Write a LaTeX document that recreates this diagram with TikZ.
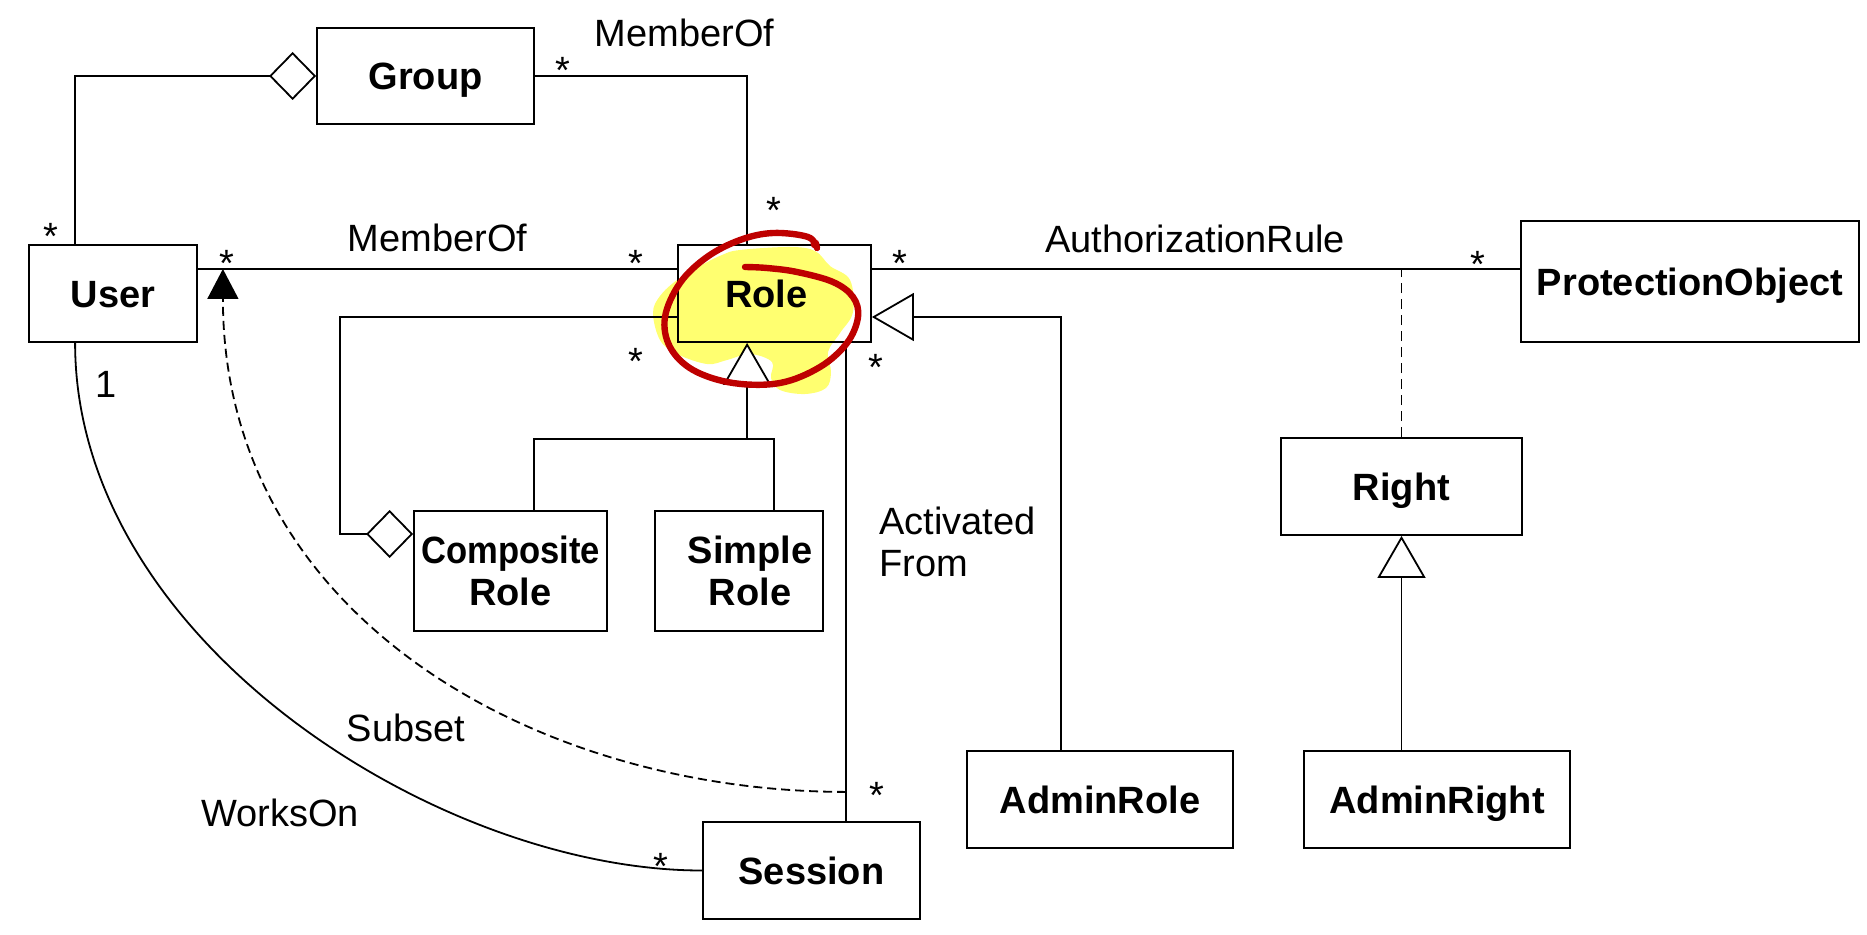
\documentclass[tikz,border=0pt]{standalone}
\usepackage{fontspec}
\setmainfont{Liberation Sans}
\usetikzlibrary{arrows.meta,calc}
\definecolor{hlyellow}{RGB}{255,255,112}
\definecolor{penred}{RGB}{190,0,0}
\begin{document}
\begin{tikzpicture}[x=0.5pt,y=-0.5pt,
  every node/.style={font=\fontsize{19}{21}\selectfont},
  cls/.style={draw, line width=0.9pt, inner sep=0pt, font=\fontsize{19}{21}\selectfont\bfseries, text height=13.6pt, text depth=0pt},
  clstwo/.style={draw, line width=0.9pt, inner sep=0pt, align=center, font=\fontsize{19}{21}\selectfont\bfseries},
  lbl/.style={anchor=base, inner sep=0pt},
  conn/.style={line width=0.9pt},
  gen/.style={conn, -{Triangle[open, fill=white, length=21pt, width=24pt]}},
  aggr/.style={conn, {Diamond[open, fill=white, length=23.5pt, width=24pt]}-},
  dep/.style={conn, dash pattern=on 4.5pt off 2.5pt, -{Triangle[length=15pt, width=15.5pt]}},
  assocdash/.style={conn, dash pattern=on 5pt off 3pt},
]
\useasboundingbox (0,0) rectangle (1867,935);

% yellow highlight behind Role
\fill[hlyellow] plot[smooth cycle, tension=0.6] coordinates {
  (740,250) (790,247) (815,251) (830,266) (850,280) (853,312) (840,333)
  (828,352) (831,372) (826,388) (805,394) (780,390) (771,378) (772,362)
  (750,354) (727,360) (707,364) (677,354) (660,340) (653,313) (660,296)
  (677,280) (700,266) (722,255)};

% classes
\node[cls, minimum width=84pt, minimum height=48.5pt] (User) at (113,293.5) {User};
\node[cls, minimum width=108.5pt, minimum height=48pt] (Group) at (425.5,76) {Group};
\node[cls, minimum width=96.5pt, minimum height=48.5pt] (Role) at (774.5,293.5) {\hspace*{-8pt}Role};
\node[cls, minimum width=169pt, minimum height=60.5pt] (PO) at (1690,281.5) {ProtectionObject};
\node[cls, minimum width=120.5pt, minimum height=48.5pt] (Right) at (1401.5,486.5) {Right};
\node[cls, minimum width=133pt, minimum height=48.5pt] (AdminRight) at (1437,799.5) {AdminRight};
\node[cls, minimum width=133pt, minimum height=48.5pt] (AdminRole) at (1100,799.5) {AdminRole};
\node[cls, minimum width=108.5pt, minimum height=48.5pt] (Session) at (811.5,870.5) {Session};
\node[clstwo, minimum width=96.5pt, minimum height=60pt] (Composite) at (510.5,571) {\scalebox{0.91}[1]{Composite}\\Role};
\node[clstwo, minimum width=84pt, minimum height=60pt] (Simple) at (739,571) {\hspace*{11pt}Simple\\\hspace*{11pt}Role};

% connectors
\draw[aggr] (Group.west) -| ($(User.north west)+(47,0)$);
\draw[conn] (Group.east) -| ($(Role.north west)+(70,0)$);
\draw[conn] ($(User.east)+(0,-24.5)$) -- ($(Role.west)+(0,-24.5)$);
\draw[conn] ($(Role.east)+(0,-24.5)$) coordinate (ar) -- (ar -| PO.west);
\draw[assocdash] (Right.north) -- (Right.north |- ar);
\draw[gen] (Right.south |- AdminRight.north) -- (Right.south);
\draw[gen] ($(AdminRole.north west)+(95,0)$) |- ($(Role.east)+(0,23.5)$);
\coordinate (gj) at ($(Role.south west)+(70,96)$);
\draw[conn] ($(Composite.north west)+(121,0)$) |- (gj) -| ($(Simple.north west)+(120,0)$);
\draw[gen] (gj) -- ($(Role.south west)+(70,0)$);
\draw[aggr] ($(Composite.west)+(0,-37)$) -- ++(-73,0) |- ($(Role.west)+(0,23.5)$);
\draw[conn] ($(Role.south west)+(169,0)$) coordinate (af) -- (af |- Session.north);
\coordinate (sb) at ($(af)+(0,449)$);
\draw[dep] (sb) .. controls +(-307,0) and +(0,350) .. ($(User.east)+(25,-24.5)$);
\draw[conn] ($(User.south west)+(47,0)$) .. controls +(0,298) and +(-263,0) .. (Session.west);

% labels
\node[lbl] (lmo1) at (684.5,47) {MemberOf};
\node[lbl] (lmo2) at (437.5,252) {MemberOf};
\node[lbl] (lar) at (1195,253) {AuthorizationRule};
\node[lbl] (lsub) at (406,741) {Subset};
\node[lbl] (lwo) at (280,826) {WorksOn};
\node[lbl] (lone) at (106,397) {1};
\node[anchor=north west, inner sep=0pt, align=left] (lact) at (879,507) {Activated\\From};

% multiplicities
\foreach \mx/\my [count=\i] in {563/62, 774/202, 51/228, 227/255, 636/255, 636/352, 900/255, 876/358, 1478/256, 877/786, 661/857}
  \node[lbl] (m\i) at (\mx,\my+22) {*};

% red pen annotation
\draw[penred, line width=3.2pt, line cap=round, line join=round] plot[smooth, tension=0.6] coordinates {
  (817,248) (808,237) (773,233) (740,240) (707,257) (680,283) (665,317)
  (670,347) (693,370) (733,383) (780,383) (820,367) (847,343) (858,317)
  (853,297) (833,282) (797,272) (767,268) (745,267)};
\fill[penred] (815,244) circle[radius=4.5];
\end{tikzpicture}
\end{document}
